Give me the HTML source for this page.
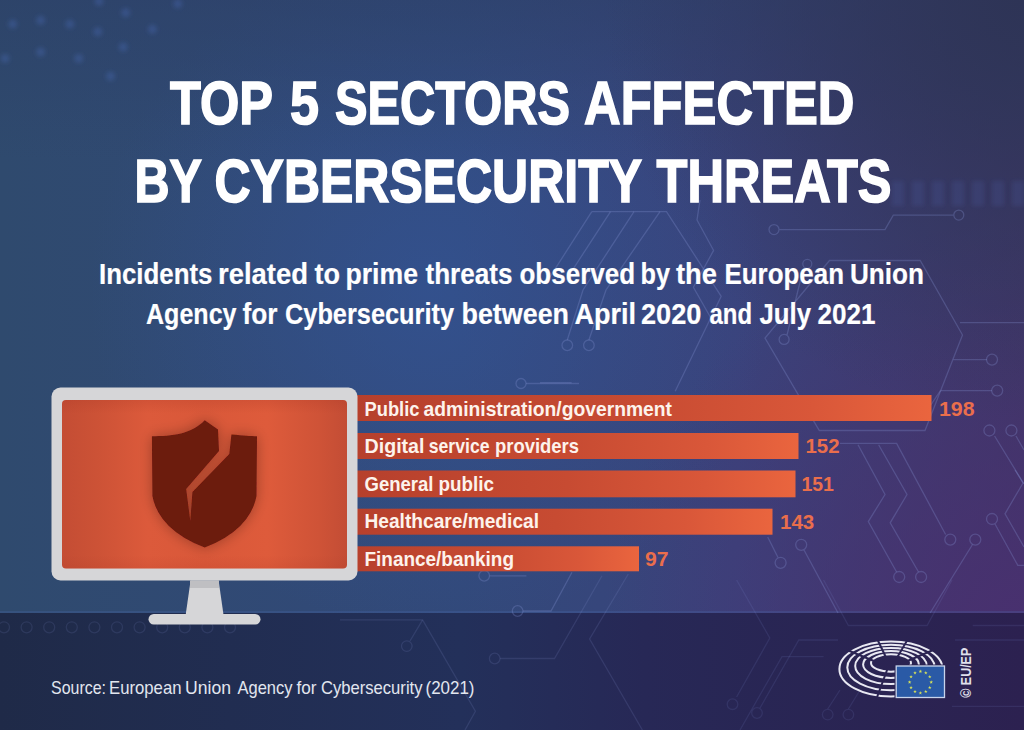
<!DOCTYPE html>
<html><head><meta charset="utf-8">
<style>
html,body{margin:0;padding:0;width:1024px;height:730px;overflow:hidden;background:#2c4a7e;}
svg{display:block;font-family:"Liberation Sans", sans-serif;}
</style></head>
<body>
<svg width="1024" height="730" viewBox="0 0 1024 730">
<defs>
  <linearGradient id="bg" x1="0" y1="0" x2="1" y2="0">
    <stop offset="0" stop-color="#2f4a6e"/>
    <stop offset="0.45" stop-color="#32497a"/>
    <stop offset="0.72" stop-color="#3a437c"/>
    <stop offset="1" stop-color="#3e3868"/>
  </linearGradient>
  <radialGradient id="purp" cx="1024" cy="640" r="420" gradientUnits="userSpaceOnUse">
    <stop offset="0" stop-color="#4a2f70" stop-opacity="0.9"/>
    <stop offset="1" stop-color="#4a2f70" stop-opacity="0"/>
  </radialGradient>
  <radialGradient id="cen" cx="430" cy="290" r="340" gradientUnits="userSpaceOnUse">
    <stop offset="0" stop-color="#3458a0" stop-opacity="0.5"/>
    <stop offset="1" stop-color="#3458a0" stop-opacity="0"/>
  </radialGradient>
  <linearGradient id="topd" x1="0" y1="0" x2="0" y2="1">
    <stop offset="0" stop-color="#2c3f66" stop-opacity="0.55"/>
    <stop offset="1" stop-color="#2c3f66" stop-opacity="0"/>
  </linearGradient>
  <radialGradient id="tr" cx="1024" cy="0" r="420" gradientUnits="userSpaceOnUse">
    <stop offset="0" stop-color="#2e3456" stop-opacity="1"/>
    <stop offset="1" stop-color="#2e3456" stop-opacity="0"/>
  </radialGradient>
  <linearGradient id="band" x1="0" y1="0" x2="1" y2="0">
    <stop offset="0" stop-color="#1f2a48"/>
    <stop offset="0.45" stop-color="#23305a"/>
    <stop offset="0.63" stop-color="#272856"/>
    <stop offset="1" stop-color="#2c2150"/>
  </linearGradient>
  <linearGradient id="bar" x1="0" y1="0" x2="1" y2="0">
    <stop offset="0" stop-color="#b53f2c"/>
    <stop offset="0.5" stop-color="#c74b32"/>
    <stop offset="0.8" stop-color="#d95739"/>
    <stop offset="1" stop-color="#ea653e"/>
  </linearGradient>
  <linearGradient id="screen" x1="0" y1="0" x2="1" y2="0">
    <stop offset="0" stop-color="#c44d34"/>
    <stop offset="0.12" stop-color="#cc5236"/>
    <stop offset="0.3" stop-color="#dc5a3b"/>
    <stop offset="0.5" stop-color="#d95839"/>
    <stop offset="0.72" stop-color="#de5b3b"/>
    <stop offset="0.9" stop-color="#cf5337"/>
    <stop offset="1" stop-color="#c34d35"/>
  </linearGradient>
  <linearGradient id="screenv" x1="0" y1="0" x2="0" y2="1">
    <stop offset="0" stop-color="#a03020" stop-opacity="0.18"/>
    <stop offset="0.08" stop-color="#a03020" stop-opacity="0"/>
    <stop offset="0.92" stop-color="#a03020" stop-opacity="0"/>
    <stop offset="1" stop-color="#a03020" stop-opacity="0.12"/>
  </linearGradient>
  <filter id="shsh" x="-30%" y="-30%" width="160%" height="160%">
    <feGaussianBlur in="SourceAlpha" stdDeviation="7"/>
    <feComponentTransfer><feFuncA type="linear" slope="0.3"/></feComponentTransfer>
    <feMerge><feMergeNode/><feMergeNode in="SourceGraphic"/></feMerge>
  </filter>
  <filter id="blur1" x="-10%" y="-50%" width="120%" height="200%"><feGaussianBlur stdDeviation="2"/></filter>
</defs>

<!-- background -->
<rect x="0" y="0" width="1024" height="730" fill="url(#bg)"/>
<rect x="0" y="0" width="1024" height="730" fill="url(#purp)"/>
<rect x="0" y="0" width="1024" height="730" fill="url(#cen)"/>
<rect x="0" y="0" width="1024" height="160" fill="url(#topd)"/>
<rect x="0" y="0" width="1024" height="730" fill="url(#tr)"/>
<rect x="0" y="613" width="1024" height="117" fill="url(#band)"/>
<rect x="0" y="611" width="1024" height="2" fill="#4a6ab0" fill-opacity="0.25"/>

<!-- circuit lines -->
<g fill="none" stroke="#8796d6" stroke-opacity="0.28" stroke-width="1.3">
  <!-- hexagon near bar1 -->
  <path d="M829.5 260.5 L920.2 260.5 L962.5 335 L925 430.5 L819.3 430.5 L765 338 Z"/>
  <path d="M779.5 229.6 L885 229.6 L893.3 215.1 L953.3 215.1"/>
  <circle cx="774" cy="229.6" r="5"/>
  <circle cx="958.8" cy="215.1" r="5"/>
  <path d="M787 335 L803.5 268"/>
  <circle cx="784.1" cy="339.4" r="5"/>
  <circle cx="807.3" cy="263.8" r="4.5"/>
  <path d="M960 322.6 L1024 322.6"/>
  <path d="M940.5 390.6 L992 390.6 M953.4 359.6 L987 359.6"/>
  <circle cx="997.2" cy="390.6" r="5.5"/>
  <circle cx="992" cy="359.6" r="5.5"/>
  <path d="M940.5 390.6 L926 412"/>
  <circle cx="989.4" cy="430.5" r="5.5"/>
  <circle cx="1011.4" cy="430.5" r="5.5"/>
  <path d="M994.6 436 L1024 484 M1016 436 L1024 450"/>
  <!-- chevrons below bars -->
  <path d="M840 443.4 L896.6 443.4 L945.6 534.5"/>
  <path d="M858 444.7 L885 494.5 L868.3 521.6 L896.6 572"/>
  <path d="M878.6 444.7 L907 494.5 L890.2 522.8 L918.5 572"/>
  <circle cx="899.2" cy="577" r="5.5"/>
  <circle cx="921.1" cy="577" r="5.5"/>
  <circle cx="950.3" cy="539.6" r="5.5"/>
  <path d="M972.5 544.5 L930.1 613"/>
  <circle cx="975.3" cy="539.6" r="5.5"/>
  <path d="M995 524 L1017.8 565.4 L1024 565.4"/>
  <circle cx="992" cy="519" r="5.5"/>
  <path d="M1015 470 L1023 483 L1005 513.8 L1024 547"/>
  <circle cx="801.2" cy="544.8" r="5.5"/>
  <path d="M804 550 L838 613"/>
  <circle cx="780.6" cy="562.8" r="5.5"/>
  <path d="M778 557.5 L767.7 537"/>
  <!-- middle top -->
  <path d="M591.8 211.6 L666.5 211.6 L721.2 296.4 L675.2 391.3"/>
  <path d="M591.8 211.6 L548 280 M610.5 211.6 L566 280 M634 211.6 L583 290 L567.3 340 M660 211.6 L606 290 L588.9 340"/>
  <circle cx="567.3" cy="345.3" r="5.3"/>
  <circle cx="588.9" cy="345.3" r="5.3"/>
  <path d="M700 200 L697 220 L713.6 250.4 L693.4 287.3 L712 320"/>
  <path d="M540 382.7 L571.6 382.7"/>
  <!-- lower middle -->
  <circle cx="517.6" cy="611" r="5.3"/>
  <path d="M523 611 L551 611 L572 572.3"/>
  <circle cx="484.2" cy="575.8" r="5.3"/>
  <circle cx="521" cy="383.5" r="5"/>
  <path d="M526 383.5 L579 383.5"/>
  <path d="M489.5 575.8 L526.4 575.8"/>
</g>
<g fill="none" stroke="#8796d6" stroke-opacity="0.16" stroke-width="1.3">
  <path d="M602 575.8 L554.5 658.5 L500 658.5"/>
  <circle cx="494.7" cy="658.5" r="5.3"/>
  <path d="M628.3 574 L589.6 639 L642.4 730"/>
  <path d="M340 619.8 L422.6 619.8 L475.4 711.2 L465 730"/>
  <circle cx="406.8" cy="646.1" r="5.3"/>
  <path d="M410 641 L422.6 619.8"/>
</g>
<g fill="none" stroke="#8796d6" stroke-opacity="0.13" stroke-width="1.3">
  <path d="M736.6 580 L769.8 638 L736.6 697"/>
  <circle cx="732.5" cy="704.2" r="5.3"/>
  <path d="M823.6 580 L848.4 625.5 L927.1 625.5 L952 580"/>
  <path d="M838 640 L798.8 640 L760 708 M955 640 L1024 640"/>
  <circle cx="757" cy="713" r="5.3"/>
  <path d="M972.7 625.5 L1024 625.5"/>
  <path d="M823.6 656.6 L782 656.6 L740 730"/>
  <circle cx="827.7" cy="714.6" r="5.3"/>
  <circle cx="848.4" cy="714.6" r="5.3"/>
  <path d="M827.7 709 L840 690 M848.4 709 L860 690"/>
  <path d="M952 706.3 L1024 706.3"/>
</g>
<g fill="none" stroke="#7f8ccc" stroke-opacity="0.15" stroke-width="1.3">
  <circle cx="4" cy="627.3" r="5.5"/><circle cx="26.6" cy="627.3" r="5.5"/><circle cx="49.2" cy="627.3" r="5.5"/>
  <circle cx="71.8" cy="627.3" r="5.5"/><circle cx="94.4" cy="627.3" r="5.5"/><circle cx="117" cy="627.3" r="5.5"/>
  <circle cx="139.6" cy="627.3" r="5.5"/><circle cx="162.2" cy="627.3" r="5.5"/><circle cx="184.8" cy="627.3" r="5.5"/>
  <circle cx="207.4" cy="627.3" r="5.5"/><circle cx="230" cy="627.3" r="5.5"/>
</g>
<g fill="#4a6ab8" fill-opacity="0.35" filter="url(#blur1)"><circle cx="12.7" cy="24.1" r="4.5"/><circle cx="40.6" cy="20.3" r="4.5"/><circle cx="69.8" cy="24.1" r="4.5"/><circle cx="97.8" cy="31.7" r="4.5"/><circle cx="125.7" cy="12.7" r="4.5"/><circle cx="99" cy="1.3" r="4.5"/><circle cx="5.1" cy="58.4" r="4.5"/><circle cx="40.6" cy="52" r="4.5"/><circle cx="78.7" cy="58.4" r="4.5"/><circle cx="123.2" cy="47" r="4.5"/><circle cx="152.4" cy="29.2" r="4.5"/><circle cx="110.5" cy="76.2" r="4.5"/><circle cx="177.8" cy="3.8" r="4.5"/></g>
<!-- striped band right of title -->
<g fill="#4a64a8" fill-opacity="0.2" filter="url(#blur1)">
  <rect x="892" y="181" width="12" height="25"/><rect x="912" y="181" width="12" height="25"/><rect x="932" y="181" width="12" height="25"/>
  <rect x="952" y="181" width="12" height="25"/><rect x="972" y="181" width="12" height="25"/><rect x="992" y="181" width="12" height="25"/>
  <rect x="1012" y="181" width="12" height="25"/>
</g>

<!-- title -->
<g fill="#ffffff" font-weight="bold">
  <g font-size="61" stroke="#fff" stroke-width="1.6">
  <text x="170.0" y="124.3" textLength="103.0" lengthAdjust="spacingAndGlyphs">TOP</text>
  <text x="290.0" y="124.3" textLength="29.0" lengthAdjust="spacingAndGlyphs">5</text>
  <text x="335.0" y="124.3" textLength="235.0" lengthAdjust="spacingAndGlyphs">SECTORS</text>
  <text x="584.0" y="124.3" textLength="270.5" lengthAdjust="spacingAndGlyphs">AFFECTED</text>
  <text x="134.5" y="201.8" textLength="67.5" lengthAdjust="spacingAndGlyphs">BY</text>
  <text x="214.5" y="201.8" textLength="427.5" lengthAdjust="spacingAndGlyphs">CYBERSECURITY</text>
  <text x="656.5" y="201.8" textLength="235.0" lengthAdjust="spacingAndGlyphs">THREATS</text>
</g>
<g font-size="30" stroke="#fff" stroke-width="0.2">
  <text x="99.0" y="283.7" textLength="113.5" lengthAdjust="spacingAndGlyphs">Incidents</text>
  <text x="218.0" y="283.7" textLength="90.0" lengthAdjust="spacingAndGlyphs">related</text>
  <text x="314.5" y="283.7" textLength="25.5" lengthAdjust="spacingAndGlyphs">to</text>
  <text x="345.5" y="283.7" textLength="72.5" lengthAdjust="spacingAndGlyphs">prime</text>
  <text x="425.5" y="283.7" textLength="87.0" lengthAdjust="spacingAndGlyphs">threats</text>
  <text x="519.5" y="283.7" textLength="115.5" lengthAdjust="spacingAndGlyphs">observed</text>
  <text x="640.5" y="283.7" textLength="29.5" lengthAdjust="spacingAndGlyphs">by</text>
  <text x="676.0" y="283.7" textLength="41.0" lengthAdjust="spacingAndGlyphs">the</text>
  <text x="724.5" y="283.7" textLength="119.5" lengthAdjust="spacingAndGlyphs">European</text>
  <text x="850.0" y="283.7" textLength="74.0" lengthAdjust="spacingAndGlyphs">Union</text>
  <text x="146.0" y="323.5" textLength="90.5" lengthAdjust="spacingAndGlyphs">Agency</text>
  <text x="242.5" y="323.5" textLength="35.0" lengthAdjust="spacingAndGlyphs">for</text>
  <text x="285.0" y="323.5" textLength="169.0" lengthAdjust="spacingAndGlyphs">Cybersecurity</text>
  <text x="461.5" y="323.5" textLength="107.5" lengthAdjust="spacingAndGlyphs">between</text>
  <text x="574.5" y="323.5" textLength="61.5" lengthAdjust="spacingAndGlyphs">April</text>
  <text x="641.0" y="323.5" textLength="60.5" lengthAdjust="spacingAndGlyphs">2020</text>
  <text x="709.5" y="323.5" textLength="42.5" lengthAdjust="spacingAndGlyphs">and</text>
  <text x="759.5" y="323.5" textLength="51.5" lengthAdjust="spacingAndGlyphs">July</text>
  <text x="817.5" y="323.5" textLength="58.0" lengthAdjust="spacingAndGlyphs">2021</text>
</g>
</g>

<!-- bars -->
<g fill="url(#bar)">
  <rect x="340" y="395" width="591.5" height="26"/>
  <rect x="340" y="433" width="458.5" height="26"/>
  <rect x="340" y="470.5" width="455.5" height="26.8"/>
  <rect x="340" y="508.7" width="432.5" height="26"/>
  <rect x="340" y="546.3" width="299" height="25"/>
</g>
<g fill="#fdf3ec" font-weight="bold" font-size="21">
  <text x="364.5" y="415.7" textLength="55.0" lengthAdjust="spacingAndGlyphs">Public</text>
  <text x="423.5" y="415.7" textLength="248.5" lengthAdjust="spacingAndGlyphs">administration/government</text>
  <text x="364.5" y="453.2" textLength="60.0" lengthAdjust="spacingAndGlyphs">Digital</text>
  <text x="428.75" y="453.2" textLength="60.75" lengthAdjust="spacingAndGlyphs">service</text>
  <text x="495" y="453.2" textLength="84" lengthAdjust="spacingAndGlyphs">providers</text>
  <text x="364.5" y="490.7" textLength="69.0" lengthAdjust="spacingAndGlyphs">General</text>
  <text x="438.5" y="490.7" textLength="55.5" lengthAdjust="spacingAndGlyphs">public</text>
  <text x="364.5" y="528.2" textLength="174.5" lengthAdjust="spacingAndGlyphs">Healthcare/medical</text>
  <text x="364.5" y="565.9" textLength="149.5" lengthAdjust="spacingAndGlyphs">Finance/banking</text>
</g>
<g fill="#ea6e4c" font-weight="bold" font-size="21">
  <text x="939" y="415.8" textLength="35.6" lengthAdjust="spacingAndGlyphs">198</text>
  <text x="805.5" y="453.2" textLength="34" lengthAdjust="spacingAndGlyphs">152</text>
  <text x="801.5" y="491" textLength="32.4" lengthAdjust="spacingAndGlyphs">151</text>
  <text x="780" y="529" textLength="34.2" lengthAdjust="spacingAndGlyphs">143</text>
  <text x="645" y="566.3" textLength="23.5" lengthAdjust="spacingAndGlyphs">97</text>
</g>

<!-- monitor -->
<rect x="51.5" y="387.5" width="306" height="193" rx="9" fill="#d6d6d8"/>
<rect x="62" y="400" width="285" height="168.5" rx="4" fill="url(#screen)"/>
<rect x="62" y="400" width="285" height="168.5" rx="4" fill="url(#screenv)"/>
<path d="M190.6 580.5 L218.6 580.5 L223.4 614 L185.8 614 Z" fill="#d6d6d8"/>
<rect x="190" y="580.5" width="29" height="7.5" fill="#bfbfc2"/>
<rect x="148.5" y="614" width="112" height="10.5" rx="5.25" fill="#d6d6d8"/>

<!-- shield -->
<g filter="url(#shsh)">
<path fill="#6c1a0f" d="M151.9 436.3 C172 436.3 192 434 204.7 420.3 L218 429.5 L219 451 L186.2 489 L190.3 521 L192.4 492 L229.3 454 L231.4 434.6 C244 435.5 250 436.3 257 436.3 L256.5 496 Q250 530 204.7 547.6 Q159 530 152.4 496 Z"/>
</g>

<!-- source -->
<g font-size="19" fill="#e2e6ef">
  <text x="51.0" y="694" textLength="55.0" lengthAdjust="spacingAndGlyphs">Source:</text>
  <text x="109.0" y="694" textLength="72.5" lengthAdjust="spacingAndGlyphs">European</text>
  <text x="185.0" y="694" textLength="46.0" lengthAdjust="spacingAndGlyphs">Union</text>
  <text x="237.5" y="694" textLength="55.0" lengthAdjust="spacingAndGlyphs">Agency</text>
  <text x="296.5" y="694" textLength="20.0" lengthAdjust="spacingAndGlyphs">for</text>
  <text x="321.0" y="694" textLength="101.5" lengthAdjust="spacingAndGlyphs">Cybersecurity</text>
  <text x="425.5" y="694" textLength="49.0" lengthAdjust="spacingAndGlyphs">(2021)</text>
</g>

<!-- EP logo -->
<mask id="hemi" maskUnits="userSpaceOnUse" x="820" y="620" width="140" height="90"><path d="M820 620 H960 V664.5 H894.5 V710 H820 Z" fill="#fff"/>
<g stroke="#000" stroke-width="2" fill="none">
  <line x1="891" y1="668" x2="871" y2="626"/>
  <line x1="891" y1="668" x2="915" y2="627"/>
  <line x1="891" y1="668" x2="952" y2="642"/>
  <line x1="890" y1="662" x2="876" y2="700"/>
  <line x1="891" y1="668" x2="830" y2="643"/>
</g></mask>
<g mask="url(#hemi)" fill="none" stroke="#e8e8f2" stroke-width="2">
<ellipse cx="891.0" cy="663.0" rx="20.0" ry="8.7"/>
<ellipse cx="891.0" cy="664.5" rx="27.9" ry="13.4"/>
<ellipse cx="891.0" cy="666.0" rx="35.8" ry="18.1"/>
<ellipse cx="891.0" cy="667.5" rx="43.7" ry="22.8"/>
<ellipse cx="891.0" cy="669.0" rx="51.6" ry="27.5"/>
</g>

<rect x="896.2" y="666" width="48.3" height="31.5" fill="#2a5aa6" stroke="#c8d4ec" stroke-width="1.3"/>
<g fill="#d6e25a"><polygon points="931.20,680.30 931.65,681.59 933.01,681.61 931.92,682.43 932.32,683.74 931.20,682.96 930.08,683.74 930.48,682.43 929.39,681.61 930.75,681.59"/><polygon points="929.75,685.70 930.20,686.99 931.56,687.01 930.48,687.83 930.87,689.14 929.75,688.36 928.64,689.14 929.03,687.83 927.95,687.01 929.31,686.99"/><polygon points="925.80,689.65 926.25,690.94 927.61,690.97 926.52,691.79 926.92,693.09 925.80,692.31 924.68,693.09 925.08,691.79 923.99,690.97 925.35,690.94"/><polygon points="920.40,691.10 920.85,692.39 922.21,692.41 921.12,693.23 921.52,694.54 920.40,693.76 919.28,694.54 919.68,693.23 918.59,692.41 919.95,692.39"/><polygon points="915.00,689.65 915.45,690.94 916.81,690.97 915.72,691.79 916.12,693.09 915.00,692.31 913.88,693.09 914.28,691.79 913.19,690.97 914.55,690.94"/><polygon points="911.05,685.70 911.49,686.99 912.85,687.01 911.77,687.83 912.16,689.14 911.05,688.36 909.93,689.14 910.32,687.83 909.24,687.01 910.60,686.99"/><polygon points="909.60,680.30 910.05,681.59 911.41,681.61 910.32,682.43 910.72,683.74 909.60,682.96 908.48,683.74 908.88,682.43 907.79,681.61 909.15,681.59"/><polygon points="911.05,674.90 911.49,676.19 912.85,676.21 911.77,677.03 912.16,678.34 911.05,677.56 909.93,678.34 910.32,677.03 909.24,676.21 910.60,676.19"/><polygon points="915.00,670.95 915.45,672.23 916.81,672.26 915.72,673.08 916.12,674.38 915.00,673.61 913.88,674.38 914.28,673.08 913.19,672.26 914.55,672.23"/><polygon points="920.40,669.50 920.85,670.79 922.21,670.81 921.12,671.63 921.52,672.94 920.40,672.16 919.28,672.94 919.68,671.63 918.59,670.81 919.95,670.79"/><polygon points="925.80,670.95 926.25,672.23 927.61,672.26 926.52,673.08 926.92,674.38 925.80,673.61 924.68,674.38 925.08,673.08 923.99,672.26 925.35,672.23"/><polygon points="929.75,674.90 930.20,676.19 931.56,676.21 930.48,677.03 930.87,678.34 929.75,677.56 928.64,678.34 929.03,677.03 927.95,676.21 929.31,676.19"/></g>
<text transform="translate(971.3 697.8) rotate(-90)" font-size="15.5" font-weight="bold" fill="#e0e0ec" textLength="50" lengthAdjust="spacingAndGlyphs">© EU/EP</text>
</svg>
</body></html>
